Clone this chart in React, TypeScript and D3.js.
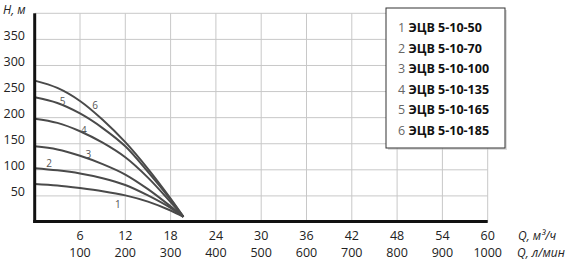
import React from "react";
import * as d3 from "d3";

const flowM3h = [0, 3, 6, 9, 12, 15, 18, 19.7];
const head1 = [73, 70, 65, 59, 51, 39, 22, 10];
const head2 = [103, 99, 93, 84, 71, 51, 27, 10];
const head3 = [145, 139, 127, 111, 91, 63, 30, 10];
const head4 = [198, 190, 174, 152, 124, 85, 38, 10];
const head5 = [239, 228, 208, 180, 145, 96, 43, 10];
const head6 = [271, 257, 232, 196, 153, 102, 45, 10];
const seriesHeads = [head1, head2, head3, head4, head5, head6];

const curveLabels = ["1", "2", "3", "4", "5", "6"];
const curveLabelQ = [11, 1.9, 7.1, 6.5, 3.7, 8];
const curveLabelH = [35, 113, 131, 177, 232, 225];

const legendNums = ["1", "2", "3", "4", "5", "6"];
const legendNames = ["ЭЦВ 5-10-50", "ЭЦВ 5-10-70", "ЭЦВ 5-10-100", "ЭЦВ 5-10-135", "ЭЦВ 5-10-165", "ЭЦВ 5-10-185"];

const xTicksM3h = [6, 12, 18, 24, 30, 36, 42, 48, 54, 60];
const xTicksLmin = ["100", "200", "300", "400", "500", "600", "700", "800", "900", "1000"];
const yTicks = [50, 100, 150, 200, 250, 300, 350];
const yGrid = [50, 100, 150, 200, 250, 300, 350, 400];

const FONT = "'Open Sans', 'Noto Sans', sans-serif";

export default function App() {
  const x = d3.scaleLinear().domain([0, 60]).range([34.7, 487.7]);
  const y = d3.scaleLinear().domain([0, 400]).range([222, 13.3]);
  const line = d3
    .line<[number, number]>()
    .x((d) => x(d[0]))
    .y((d) => y(d[1]))
    .curve(d3.curveCatmullRom.alpha(0.5));

  return (
    <svg
      width={570}
      height={271}
      style={{ position: "absolute", left: 0, top: 0, background: "#fff" }}
      fontFamily={FONT}
    >
      {/* grid */}
      {yGrid.map((v) => (
        <line key={"hg" + v} x1={x(0)} x2={x(60)} y1={y(v)} y2={y(v)} stroke="#c8c8c8" strokeWidth={1} />
      ))}
      {xTicksM3h.map((v) => (
        <line key={"vg" + v} x1={x(v)} x2={x(v)} y1={y(400)} y2={y(0)} stroke="#c8c8c8" strokeWidth={1} />
      ))}

      {/* curves */}
      {seriesHeads.map((hs, i) => (
        <path
          key={"c" + i}
          d={line(flowM3h.map((q, j) => [q, hs[j]] as [number, number])) || ""}
          fill="none"
          stroke="#4a4a4a"
          strokeWidth={2}
        />
      ))}
      {curveLabels.map((t, i) => (
        <text
          key={"cl" + i}
          x={x(curveLabelQ[i])}
          y={y(curveLabelH[i])}
          fontSize={10}
          fill="#555555"
          textAnchor="middle"
          dominantBaseline="central"
        >
          {t}
        </text>
      ))}

      {/* axes */}
      <line x1={x(0)} x2={x(0)} y1={y(400)} y2={y(0) + 1} stroke="#111" strokeWidth={3} />
      <line x1={x(0) - 1.5} x2={x(60)} y1={y(0) - 0.5} y2={y(0) - 0.5} stroke="#111" strokeWidth={3} />

      {/* y ticks */}
      {yTicks.map((v) => (
        <text key={"yt" + v} x={25} y={y(v) - 4} fontSize={12.5} fill="#222" textAnchor="end" dominantBaseline="central">
          {v}
        </text>
      ))}
      <text x={3} y={14} fontSize={12} fontStyle="italic" fill="#222">
        H, м
      </text>

      {/* x ticks */}
      {xTicksM3h.map((v, i) => (
        <g key={"xt" + v}>
          <text x={x(v)} y={235} fontSize={12.5} fill="#222" textAnchor="middle" dominantBaseline="central">
            {v}
          </text>
          <text x={x(v)} y={252} fontSize={12.5} fill="#222" textAnchor="middle" dominantBaseline="central">
            {xTicksLmin[i]}
          </text>
        </g>
      ))}
      <text x={518} y={235} fontSize={12} fontStyle="italic" fill="#222" dominantBaseline="central">
        Q, м³/ч
      </text>
      <text x={517} y={252} fontSize={12} fontStyle="italic" fill="#222" dominantBaseline="central">
        Q, л/мин
      </text>

      {/* legend */}
      <rect x={388} y={10} width={119} height={140} fill="#bbb" opacity={0.5} />
      <rect x={386} y={8} width={119} height={140} fill="#fff" stroke="#333" strokeWidth={1} />
      {legendNames.map((name, i) => (
        <text key={"lg" + i} x={398} y={27 + i * 20.6} fontSize={12.5} dominantBaseline="central">
          <tspan fill="#666">{legendNums[i]} </tspan>
          <tspan fill="#111" fontWeight="bold">
            {name}
          </tspan>
        </text>
      ))}
    </svg>
  );
}
